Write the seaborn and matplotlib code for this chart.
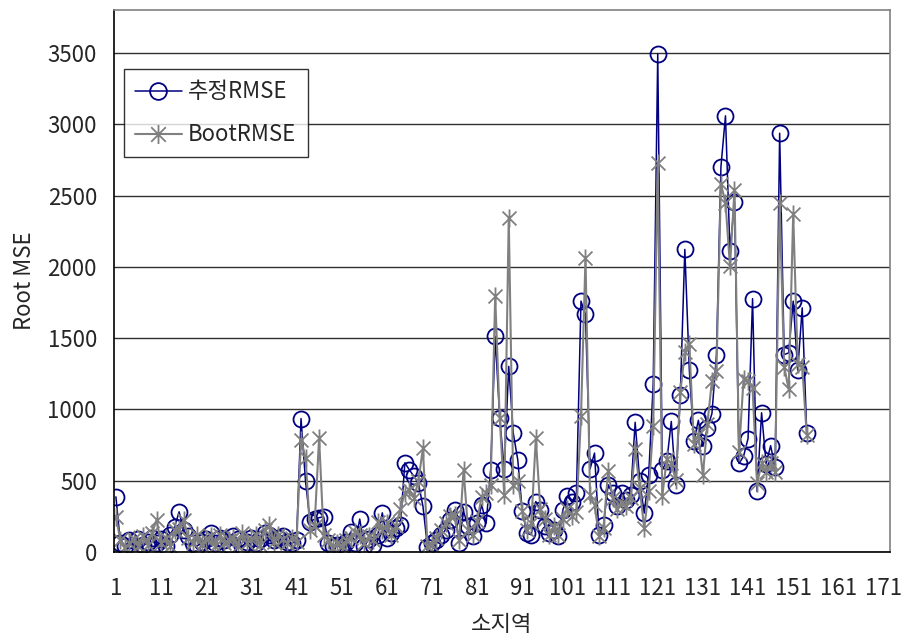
import matplotlib
matplotlib.use("Agg")
import matplotlib.pyplot as plt
from matplotlib.path import Path
import seaborn as sns
import pandas as pd

# values (sub-area index 1..154)
est_rmse = [386, 60, 40, 80, 30, 90, 50, 70, 100, 60,
            90, 40, 120, 176, 281, 150, 110, 60, 40, 70,
            90, 130, 60, 100, 80, 50, 110, 90, 40, 70,
            100, 60, 90, 130, 120, 80, 100, 110, 70, 60,
            80, 935, 494, 210, 230, 240, 246, 60, 40, 50,
            30, 70, 140, 60, 230, 40, 90, 50, 120, 274,
            100, 130, 168, 190, 625, 575, 530, 480, 320, 37,
            60, 84, 120, 154, 225, 295, 63, 283, 178, 108,
            200, 330, 201, 576, 1512, 939, 581, 1301, 833, 646,
            285, 131, 120, 353, 295, 180, 131, 150, 108, 295,
            389, 350, 412, 1759, 1666, 581, 693, 119, 190, 471,
            412, 319, 412, 365, 400, 909, 500, 272, 540, 1180,
            3495, 576, 634, 915, 470, 1103, 2122, 1274, 775, 923,
            740, 869, 970, 1380, 2703, 3059, 2111, 2455, 620, 670,
            795, 1776, 424, 976, 618, 745, 593, 2937, 1384, 1396,
            1759, 1274, 1712, 834]

boot_rmse = [245, 80, 30, 60, 90, 40, 110, 50, 130, 225,
             60, 100, 40, 150, 160, 225, 100, 60, 120, 50,
             90, 110, 40, 120, 60, 80, 100, 40, 130, 60,
             90, 120, 50, 150, 190, 70, 120, 90, 60, 100,
             70, 787, 660, 150, 180, 800, 120, 80, 30, 60,
             40, 80, 100, 140, 120, 60, 110, 80, 210, 150,
             200, 120, 180, 300, 414, 435, 380, 500, 728, 40,
             50, 100, 150, 200, 250, 260, 80, 576, 150, 120,
             220, 388, 412, 470, 1793, 939, 400, 2343, 470, 494,
             290, 150, 200, 799, 300, 230, 120, 180, 120, 230,
             300, 250, 280, 950, 2063, 400, 330, 110, 170, 565,
             380, 300, 340, 320, 380, 720, 450, 165, 430, 880,
             2725, 390, 650, 620, 505, 1120, 1400, 1455, 760, 820,
             540, 900, 1200, 1270, 2580, 2450, 2005, 2540, 700, 1210,
             1200, 1150, 480, 620, 560, 620, 560, 2450, 1300, 1140,
             2370, 1320, 1300, 820]

n_categories = 172
x_labels = list(range(1, 172, 10))
y_ticks = list(range(0, 3501, 500))

df = pd.DataFrame({"area": range(1, len(est_rmse) + 1),
                   "est": est_rmse, "boot": boot_rmse})

sns.set_style("white")
plt.rcParams["font.family"] = ["Noto Sans CJK KR", "DejaVu Sans"]

# asterisk marker: X plus a vertical bar
star = Path([(-1, -1), (1, 1), (-1, 1), (1, -1), (0, -1.3), (0, 1.3)],
            [Path.MOVETO, Path.LINETO, Path.MOVETO, Path.LINETO,
             Path.MOVETO, Path.LINETO])

fig = plt.figure(figsize=(9.02, 6.38), dpi=100)
ax = fig.add_axes([0.126, 0.135, 0.861, 0.849])

sns.lineplot(data=df, x="area", y="est", ax=ax, color="#000080", lw=1.1,
             marker="o", markersize=11.5, markerfacecolor="none",
             markeredgecolor="#000080", markeredgewidth=1.3,
             label="추정RMSE")
sns.lineplot(data=df, x="area", y="boot", ax=ax, color="#808080", lw=1.5,
             marker=star, markersize=13, markerfacecolor="none",
             markeredgecolor="#808080", markeredgewidth=1.3,
             label="BootRMSE")

ax.set_xlim(0.5, n_categories + 0.5)
ax.set_ylim(0, 3800)
ax.set_xticks(x_labels)
ax.set_xticklabels([str(v) for v in x_labels])
ax.set_xticks([0.5 + 9 * k for k in range(20)], minor=True)
ax.tick_params(axis="x", which="major", length=0, pad=18, labelsize=16)
ax.tick_params(axis="x", which="minor", direction="in", length=6,
               width=1, color="black")
ax.set_yticks(y_ticks)
ax.tick_params(axis="y", direction="in", length=6, width=1,
               pad=12, labelsize=16, color="black")

ax.grid(axis="y", color="#303030", lw=1)
ax.set_axisbelow(True)
for side in ["left", "bottom"]:
    ax.spines[side].set_color("black")
    ax.spines[side].set_linewidth(1.2)
for side in ["top", "right"]:
    ax.spines[side].set_color("#808080")
    ax.spines[side].set_linewidth(1.2)

ax.set_xlabel("소지역", fontsize=16)
ax.set_ylabel("Root MSE", fontsize=16)
ax.xaxis.set_label_coords(0.5, -0.112)
ax.yaxis.set_label_coords(-0.100, 0.5)

leg = ax.legend(loc="upper left", bbox_to_anchor=(0.013, 0.891),
                borderaxespad=0, fontsize=16, frameon=True, fancybox=False,
                handlelength=2.1, borderpad=0.5, labelspacing=0.9,
                handletextpad=0.3, markerscale=1.05)
leg.get_frame().set_edgecolor("black")
leg.get_frame().set_linewidth(1)

fig.savefig("out.png", dpi=100)
